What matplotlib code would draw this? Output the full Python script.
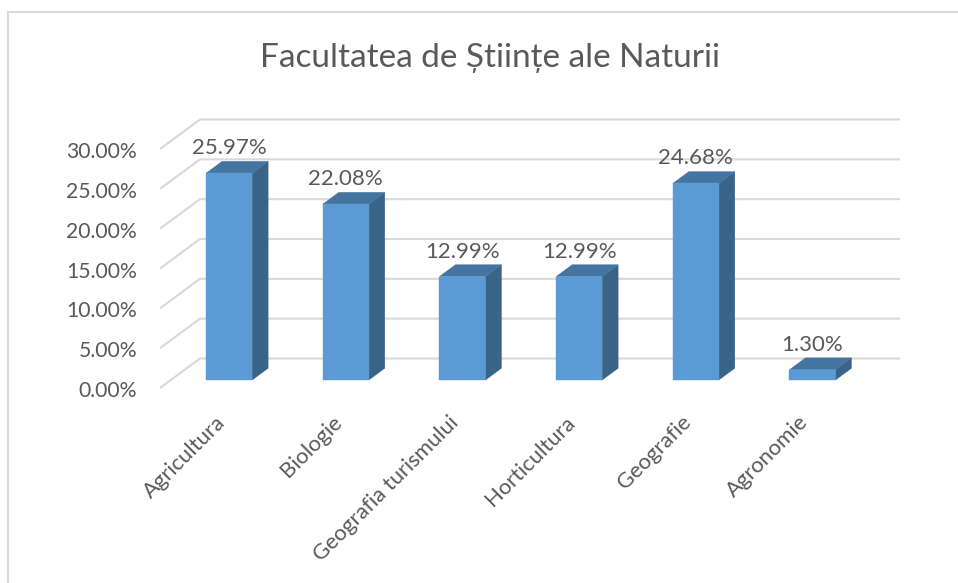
import matplotlib
matplotlib.use("Agg")
import matplotlib.pyplot as plt
from matplotlib.patches import Polygon, Rectangle

# ---- data ----
categories = ["Agricultura", "Biologie", "Geografia turismului", "Horticultura", "Geografie", "Agronomie"]
values = [25.97, 22.08, 12.99, 12.99, 24.68, 1.30]
yticks = [0, 5, 10, 15, 20, 25, 30]
title = "Facultatea de Științe ale Naturii"

# ---- style ----
FONT = ["Lato", "DejaVu Sans"]
TXT = "#595959"
GRID = "#D9D9D9"
FRONT = "#5B9BD5"
SIDE = "#3A6388"
TOP = "#4475A1"

W, H = 958, 583
fig = plt.figure(figsize=(W / 100, H / 100), dpi=100)

# front plane axes (pixel layout)
left_px, right_px, base_px, top_px = 160, 860, 388, 149
ax = fig.add_axes([left_px / W, (H - base_px) / H, (right_px - left_px) / W, (base_px - top_px) / H])
ax.set_xlim(-0.5, len(categories) - 0.5)
ax.set_ylim(0, 30)
ax.axis("off")

px_per_x = (right_px - left_px) / len(categories)
px_per_y = (base_px - top_px) / 30
ddx = 40 / px_per_x     # depth offset (data units) for full depth
ddy = 29.5 / px_per_y

def P(x, y, d):
    return (x + d * ddx, y + d * ddy)

# walls gridlines
xl, xr = -0.5, len(categories) - 0.5
for v in yticks:
    pts = [P(xl, v, 0), P(xl, v, 1), P(xr, v, 1)]
    ax.plot([p[0] for p in pts], [p[1] for p in pts], color=GRID, lw=1.5,
            clip_on=False, zorder=1, solid_capstyle="butt")
    ax.annotate(f"{v:.2f}%", xy=(xl, v), xytext=(-16.5, -2.2), textcoords="offset points",
                ha="right", va="center", fontsize=15.2, color=TXT, family=FONT,
                annotation_clip=False)

# bars
bw = 0.394
d0, d1 = 0.27, 0.67
for i, v in enumerate(values):
    xa, xb = i - bw / 2, i + bw / 2
    front = [P(xa, 0, d0), P(xb, 0, d0), P(xb, v, d0), P(xa, v, d0)]
    side = [P(xb, 0, d0), P(xb, 0, d1), P(xb, v, d1), P(xb, v, d0)]
    top = [P(xa, v, d0), P(xb, v, d0), P(xb, v, d1), P(xa, v, d1)]
    ax.add_patch(Polygon(side, closed=True, facecolor=SIDE, edgecolor=SIDE, lw=0.3, clip_on=False, zorder=3))
    ax.add_patch(Polygon(top, closed=True, facecolor=TOP, edgecolor=TOP, lw=0.3, clip_on=False, zorder=3))
    ax.add_patch(Polygon(front, closed=True, facecolor=FRONT, edgecolor=FRONT, lw=0.3, clip_on=False, zorder=4))
    fx, fy = P(i, v, d0)
    ax.annotate(f"{v:.2f}%", xy=(fx, fy), xytext=(0, 18), textcoords="offset points",
                ha="center", va="center", fontsize=16, color=TXT, family=FONT,
                annotation_clip=False, zorder=5)

# category labels
for i, c in enumerate(categories):
    ax.annotate(c, xy=P(i, 0, 0), xytext=(2.5, -22.5), textcoords="offset points",
                ha="right", va="center", rotation=45, rotation_mode="anchor",
                fontsize=15.8, color=TXT, family=FONT, annotation_clip=False)

# title
fig.text(490 / W, 1 - 58 / H, title, ha="center", va="center", fontsize=24, color=TXT, family=FONT)

# chart border
fig.patches.append(Rectangle((8 / W, -0.01), 1.0, 1 - 12 / H + 0.01, transform=fig.transFigure,
                             fill=False, edgecolor=GRID, lw=1.5))

fig.savefig("out.png", dpi=100, facecolor="white")
